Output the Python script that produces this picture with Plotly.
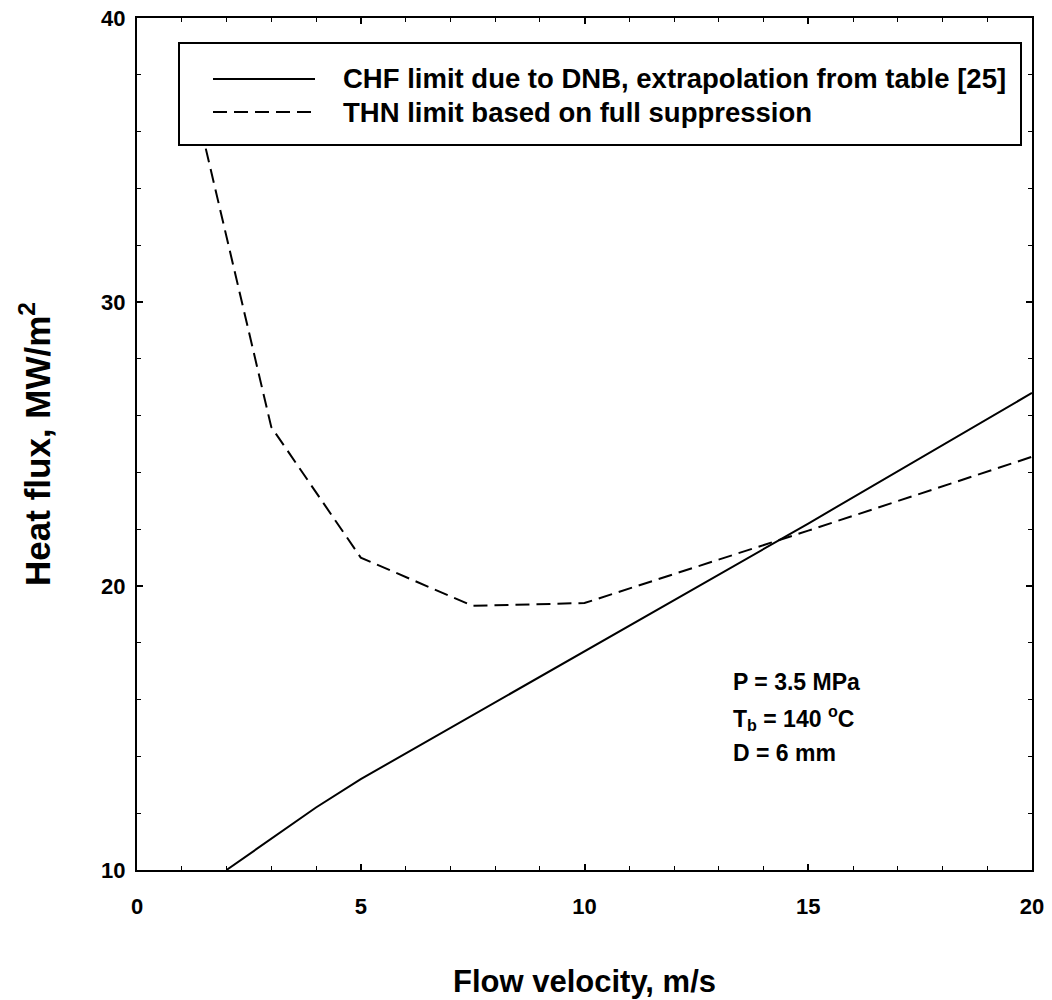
import plotly.graph_objects as go

# ---- data ----
chf_x = [2, 3, 4, 5, 10, 15, 20]
chf_y = [10.0, 11.1, 12.2, 13.2, 17.7, 22.2, 26.8]

thn_x = [1, 3, 5, 7.5, 10, 15, 20]
thn_y = [39.0, 25.6, 21.0, 19.3, 19.4, 21.95, 24.55]

chf_name = "CHF limit due to DNB, extrapolation from table [25]"
thn_name = "THN limit based on full suppression"
x_ticks = [0, 5, 10, 15, 20]
y_ticks = [10, 20, 30, 40]

FONT = "Liberation Sans, Arial, Helvetica, sans-serif"
DASH = "14px,7px"

fig = go.Figure()
fig.add_trace(go.Scatter(x=chf_x, y=chf_y, mode="lines", name=chf_name,
                         line=dict(color="black", width=2), showlegend=False))
fig.add_trace(go.Scatter(x=thn_x, y=thn_y, mode="lines", name=thn_name,
                         line=dict(color="black", width=2, dash=DASH), showlegend=False))

axis_common = dict(
    showgrid=False, zeroline=False, showline=True, linecolor="black", linewidth=2,
    mirror="allticks", ticks="inside", ticklen=6, tickwidth=1.5, tickcolor="black",
    automargin=False,
    tickfont=dict(family=FONT, size=22, color="black", weight="bold"),
)

fig.update_xaxes(range=[0, 20], tickvals=x_ticks, ticktext=[str(v) for v in x_ticks],
                 minor=dict(dtick=1, ticks="inside", ticklen=4, tickcolor="black", tickwidth=1.2),
                 ticklabelstandoff=16,
                 title=dict(text="Flow velocity, m/s",
                            font=dict(family=FONT, size=31, color="black", weight="bold"),
                            standoff=52),
                 **axis_common)
fig.update_yaxes(range=[10, 40], tickvals=y_ticks, ticktext=[str(v) for v in y_ticks],
                 minor=dict(dtick=2, ticks="inside", ticklen=4, tickcolor="black", tickwidth=1.2),
                 ticklabelstandoff=5,
                 title=dict(text="Heat flux, MW/m<sup>2</sup>",
                            font=dict(family=FONT, size=35, color="black", weight="bold"),
                            standoff=40),
                 **axis_common)

# ---- manual legend box (paper coords) ----
W, H = 1052, 1000
ml, mr, mt, mb = 137, 20, 18, 130
pw, ph = W - ml - mr, H - mt - mb

def px(x):
    return (x - ml) / pw

def py(y):
    return 1 - (y - mt) / ph

shapes = [
    dict(type="rect", xref="paper", yref="paper", x0=px(179), x1=px(1021), y0=py(145), y1=py(43),
         fillcolor="white", line=dict(color="black", width=2), layer="above"),
    dict(type="line", xref="paper", yref="paper", x0=px(213), x1=px(315), y0=py(79), y1=py(79),
         line=dict(color="black", width=2), layer="above"),
    dict(type="line", xref="paper", yref="paper", x0=px(213), x1=px(315), y0=py(112), y1=py(112),
         line=dict(color="black", width=2, dash=DASH), layer="above"),
]
annotations = [
    dict(xref="paper", yref="paper", x=px(341), y=py(79), text=chf_name, showarrow=False,
         xanchor="left", yanchor="middle", font=dict(family=FONT, size=27.5, color="black", weight="bold")),
    dict(xref="paper", yref="paper", x=px(341), y=py(112), text=thn_name, showarrow=False,
         xanchor="left", yanchor="middle", font=dict(family=FONT, size=27.5, color="black", weight="bold")),
]

note_lines = ["P = 3.5 MPa", "T<sub>b</sub> = 140 <sup>o</sup>C", "D = 6 mm"]
note_y = [682, 718, 753]
for t, yy in zip(note_lines, note_y):
    annotations.append(dict(xref="paper", yref="paper", x=px(731), y=py(yy), text=t, showarrow=False,
                            xanchor="left", yanchor="middle",
                            font=dict(family=FONT, size=23, color="black", weight="bold")))

fig.update_layout(
    width=W, height=H,
    margin=dict(l=ml, r=mr, t=mt, b=mb, pad=0, autoexpand=False),
    paper_bgcolor="white", plot_bgcolor="white",
    shapes=shapes, annotations=annotations,
    font=dict(family=FONT, color="black"),
)

fig.write_html("out.html")
